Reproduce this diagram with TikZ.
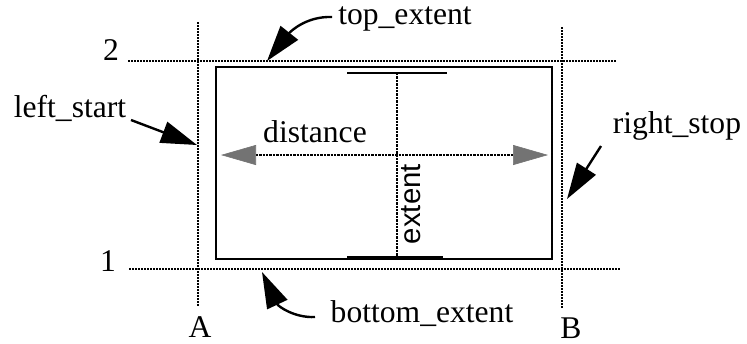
\documentclass[tikz,border=0pt]{standalone}
\usepackage{fontspec}
\setmainfont{Liberation Serif}
\newfontfamily\sansfam{Liberation Sans}
\usetikzlibrary{arrows.meta}
\begin{document}
\begin{tikzpicture}[x=0.5bp,y=-0.5bp,
  lbl/.style={font=\rmfamily\fontsize{15.8bp}{19bp}\selectfont, inner sep=0pt, anchor=base},
  guide/.style={line width=0.8bp, dash pattern=on 0.8bp off 0.7bp},
  thinline/.style={line width=0.65bp, dash pattern=on 1.2bp off 0.5bp},
  pointer/.style={line width=1.2bp, -{Triangle[length=18bp,width=11bp]}},
  shadedarrow/.style={thinline, {Triangle[length=17.5bp,width=10bp,fill=black!55,color=black!55,line width=0.3bp]}-{Triangle[length=17.5bp,width=10bp,fill=black!55,color=black!55,line width=0.3bp]}},
  bar/.style={line width=1.1bp},
  box/.style={line width=1.1bp}
]
\useasboundingbox (0,0) rectangle (747,343);

% guide lines
\draw[guide] (198,22) -- (198,307);
\draw[guide] (562,27) -- (562,308);
\draw[guide] (128,61) -- (617,61);
\draw[guide] (129,269) -- (620,269);

% rectangle
\draw[box] (216,67) rectangle (552,259);

% labels on guides
\node[lbl] (two) at (111,60) {2};
\node[lbl] (one) at (108,271) {1};
\node[lbl] (A) at (200,337) {A};
\node[lbl] (B) at (571,338) {B};

% distance
\coordinate (dL) at (221,155);
\coordinate (dR) at (548,155);
\draw[shadedarrow] (dL) -- (dR);
\node[lbl] (dist) at (315,142) {distance};

% extent
\coordinate (eT) at (397,73);
\coordinate (eB) at (397,257);
\draw[thinline] (eT) -- (eB);
\draw[bar] ([xshift=-25]eT) -- ([xshift=25]eT);
\draw[bar] ([xshift=-25]eB) -- ([xshift=23]eB);
\node[lbl, rotate=90, font=\sansfam\fontsize{14.7bp}{18bp}\selectfont] (ext) at (420,204) {extent};

% pointer labels
\node[lbl] (ls) at (70,117) {left\_start};
\node[lbl] (te) at (405,24) {top\_extent};
\node[lbl] (rs) at (677,133) {right\_stop};
\node[lbl] (be) at (422,322) {bottom\_extent};

\coordinate (lsS) at (131,120);
\coordinate (lsT) at (197,145);
\coordinate (teS) at (332,17);
\coordinate (teT) at (267,61);
\coordinate (rsS) at (601,146);
\coordinate (rsT) at (567,199);
\coordinate (beS) at (315,317);
\coordinate (beT) at (262,272);

\draw[pointer] (lsS) -- (lsT);
\draw[pointer] (teS) .. controls (306,16) and (290,32) .. (teT);
\draw[pointer] (rsS) -- (rsT);
\draw[pointer] (beS) .. controls (294,318) and (278,306) .. (beT);
\end{tikzpicture}
\end{document}
